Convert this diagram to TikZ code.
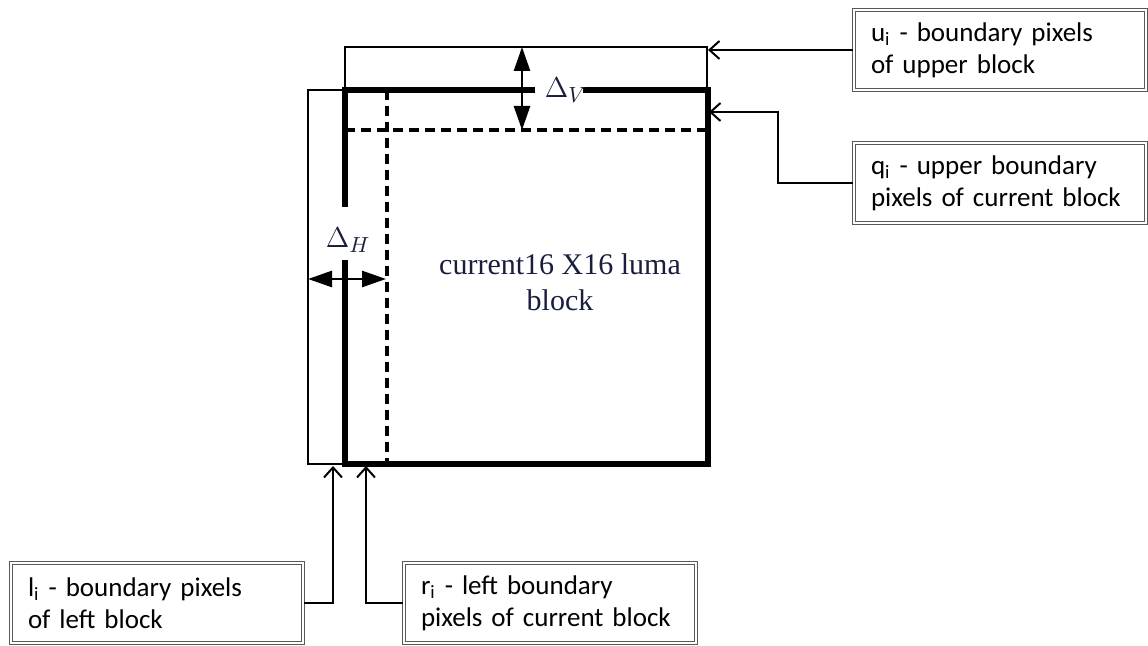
\documentclass[tikz,border=0pt]{standalone}
\usepackage{fontspec}
\setmainfont{Liberation Serif}
\newfontfamily\notefont{Carlito}
\usetikzlibrary{positioning, arrows.meta, calc}
\definecolor{ink}{RGB}{25,30,60}
\tikzset{
  edge/.style={line width=2.6pt, line join=miter},
  inner/.style={line width=1.6pt, dash pattern=on 5pt off 3pt},
  rim/.style={line width=0.9pt},
  note/.style={draw=black!65, double, double distance=0.8pt, line width=0.6pt, minimum width=146pt, minimum height=40pt, inner xsep=8.5pt, text width=129pt, align=left, font=\notefont\fontsize{13.5}{16}\selectfont},
  ptr/.style={-{Straight Barb[length=5pt, width=9pt]}, line width=1pt},
  dim/.style={{Triangle[length=12pt, width=8pt]}-{Triangle[length=12pt, width=8pt]}, line width=1.3pt},
  lbl/.style={font=\fontsize{15}{18}\selectfont, text=ink}
}
\begin{document}
\begin{tikzpicture}[x=0.5pt, y=-0.5pt]
\useasboundingbox (0,0) rectangle (1148,646);
% corners of the current block
\coordinate (tl) at (345,90);
\coordinate (tr) at (708,90);
\coordinate (bl) at (345,464);
\coordinate (br) at (708,464);
% neighbouring blocks
\draw[rim] (tl) -- (345,47) -- (707,47) -- (707,90);
\draw[rim] (tl) -- (308,90) -- (308,464) -- (bl);
% current block, broken at the labels
\draw[edge] (535,90) -- (tl) -- (345,207);
\draw[edge] (345,260) -- (bl) -- (br) -- (tr) -- (583,90);
\draw[inner] (387,90) -- (387,464);
\draw[inner] (345,130) -- (708,130);
% offsets
\draw[dim] (522,47) -- (522,130);
\node[lbl] (dv) at (566,90) {$\Delta_V$};
\draw[dim] (308,279) -- (386,279);
\node[lbl] (dh) at (348,240) {$\Delta_H$};
\node[lbl, align=center] (cur) at (560,282) {current16 X16 luma\\block};
% notes
\node[note] (u) at (1000,50) {u\textsubscript{i} - boundary pixels\\of upper block};
\node[note] (q) at (1000,183) {q\textsubscript{i} - upper boundary\\pixels of current block};
\node[note] (l) at (157,603) {l\textsubscript{i} - boundary pixels\\of left block};
\node[note] (r) at (550,603) {r\textsubscript{i} - left boundary\\pixels of current block};
\coordinate (ub) at (708,50);
\coordinate (qb) at (709,112);
\coordinate (lb) at (333,466);
\coordinate (rb) at (366,466);
\draw[ptr] (u.west) -- (ub);
\draw[ptr] (q.west) -- ++(-75,0) |- (qb);
\draw[ptr] (l.east) -| (lb);
\draw[ptr] (r.west) -| (rb);
\end{tikzpicture}
\end{document}
